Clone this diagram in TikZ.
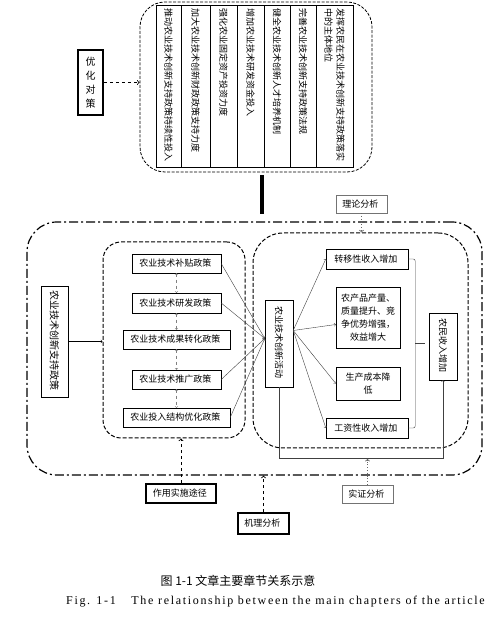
\documentclass[tikz,border=0pt]{standalone}
\usepackage{fontspec}
\setmainfont{Noto Sans CJK SC}
\newfontfamily\enfont[LetterSpace=14]{Liberation Serif}
\usetikzlibrary{arrows,positioning}

\begin{document}
\begin{tikzpicture}[x=1pt, y=1pt,
    every node/.style={inner sep=1pt, font=\fontsize{9}{13}\selectfont},
    box/.style={rectangle, draw, thin, align=center},
    boldbox/.style={rectangle, draw, line width=1.6pt, align=center},
    graybox/.style={rectangle, draw=black!55, thin, align=center},
    vbox/.style={box, rotate=-90},
    colbox/.style={rectangle, draw, semithick, rotate=-90, text width=154pt,
        inner xsep=4pt, align=left},
    dashframe/.style={rectangle, draw, dash pattern=on 4pt off 2pt, line width=1pt},
    dotframe/.style={rectangle, draw, dash pattern=on 9pt off 3pt on 2pt off 3pt,
        line width=1.2pt}
]
    \useasboundingbox (0,0) rectangle (500,628);

    % optimisation measures
    \node (duice_frame) [draw, rounded corners=25pt, dash pattern=on 3pt off 1.5pt,
        line width=0.8pt, minimum width=232, minimum height=170] at (256,541) {};
    \node (col_chixu) [colbox, minimum height=25] at (168.5,542)
    {
        推动农业技术创新支持政策持续性投入
    };
    \node (col_caizheng) [colbox, minimum height=29] at (195.5,542)
    {
        加大农业技术创新财政政策支持力度
    };
    \node (col_guding) [colbox, minimum height=27] at (223.5,542)
    {
        强化农业固定资产投资力度
    };
    \node (col_yanfa) [colbox, minimum height=27] at (250.5,542)
    {
        增加农业技术研发资金投入
    };
    \node (col_rencai) [colbox, minimum height=26] at (277,542)
    {
        健全农业技术创新人才培养机制
    };
    \node (col_fagui) [colbox, minimum height=26] at (303,542)
    {
        完善农业技术创新支持政策法规
    };
    \node (col_zhuti) [colbox, minimum height=37, font=\fontsize{9}{12}\selectfont] at (334.5,542)
    {
        发挥农民在农业技术创新支持政策落实\\中的主体地位
    };
    \node (youhua_duice) [boldbox, minimum width=25, minimum height=65,
        font=\fontsize{10}{14}\selectfont] at (90.5,545.5)
    {
        优\\化\\对\\策
    };

    % frames
    \node (outer_frame) [dotframe, rounded corners=30pt, minimum width=455, minimum height=253]
        at (254.5,279.5) {};
    \node (policy_frame) [dashframe, rounded corners=18pt, minimum width=142, minimum height=196]
        at (174,288) {};
    \node (effect_frame) [dashframe, rounded corners=30pt, minimum width=215, minimum height=215]
        at (360.5,287.5) {};

    % policies
    \node (zhichi_zhengce) [vbox, minimum width=111, minimum height=27,
        font=\fontsize{10}{13}\selectfont] at (54.5,286.5)
    {
        农业技术创新支持政策
    };
    \node (butie) [box, minimum width=89, minimum height=19] at (176.5,364.5)
    {
        农业技术补贴政策
    };
    \node (yanfa) [box, minimum width=89, minimum height=20] at (176.5,325)
    {
        农业技术研发政策
    };
    \node (zhuanhua) [box, minimum width=107, minimum height=19] at (176.5,288.5)
    {
        农业技术成果转化政策
    };
    \node (tuiguang) [box, minimum width=89, minimum height=19] at (176.5,248.5)
    {
        农业技术推广政策
    };
    \node (jiegou) [box, minimum width=107, minimum height=19] at (176.5,210.5)
    {
        农业投入结构优化政策
    };

    % innovation and effects
    \node (huodong) [vbox, minimum width=87, minimum height=28] at (279,284.5)
    {
        农业技术创新活动
    };
    \node (zhuanyi) [box, minimum width=82, minimum height=20] at (367,369)
    {
        转移性收入增加
    };
    \node (chanliang) [box, minimum width=64, minimum height=61] at (368,310.5)
    {
        农产品产量、\\质量提升、竞\\争优势增强，\\效益增大
    };
    \node (chengben) [box, minimum width=64, minimum height=33] at (368,244.5)
    {
        生产成本降\\低
    };
    \node (gongzi) [box, minimum width=82, minimum height=20] at (367,200)
    {
        工资性收入增加
    };
    \node (nongmin) [vbox, minimum width=67, minimum height=28] at (443,281.5)
    {
        农民收入增加
    };

    % analyses
    \node (lilun) [graybox, minimum width=51, minimum height=18] at (361.5,424)
    {
        理论分析
    };
    \node (shizheng) [graybox, minimum width=51, minimum height=18] at (367.5,134)
    {
        实证分析
    };
    \node (zuoyong) [boldbox, minimum width=70, minimum height=19] at (181,134.5)
    {
        作用实施途径
    };
    \node (jili) [boldbox, minimum width=51, minimum height=21] at (263.5,104.5)
    {
        机理分析
    };

    % captions
    \node (caption_cn) [font=\fontsize{12}{14}\selectfont] at (238,47)
    {
        图 1-1 文章主要章节关系示意
    };
    \node (caption_en) [anchor=west, font=\enfont\fontsize{12}{14}\selectfont] at (65,26)
    {
        Fig. 1-1\hspace{1.3em}The relationship between the main chapters of the article
    };

    \draw[->, dashed, thick] (youhua_duice.east) to (youhua_duice.east -| duice_frame.west);
    \draw[line width=3.5pt, shorten <=3pt, shorten >=7pt] ([xshift=6pt]duice_frame.south)
        to ([xshift=6pt]duice_frame.south |- outer_frame.north);

    \draw[->] (zhichi_zhengce.north) to (zhichi_zhengce.north -| policy_frame.west);

    \draw[<->, dashed, black!50] (butie) to (yanfa);
    \draw[<->, dashed, black!50] (yanfa) to (zhuanhua);
    \draw[<->, dashed, black!50] (zhuanhua) to (tuiguang);
    \draw[<->, dashed, black!50] (tuiguang) to (jiegou);

    \draw[->, black!75] (butie.east) to ([yshift=5pt]huodong.south);
    \draw[->, black!75] (yanfa.east) to ([yshift=5pt]huodong.south);
    \draw[->, black!75] (tuiguang.east) to ([yshift=5pt]huodong.south);
    \draw[->, black!75] (jiegou.east) to ([yshift=5pt]huodong.south);

    \draw[->, black!75] ([yshift=13pt]huodong.north) to (zhuanyi.west);
    \draw[->, black!75] ([yshift=13pt]huodong.north) to ([yshift=-7pt]chanliang.west);
    \draw[->, black!75] ([yshift=13pt]huodong.north) to (chengben.west);
    \draw[->, black!75] ([yshift=13pt]huodong.north) to (gongzi.west);

    \draw[black!75, rounded corners=2pt] (zhuanyi.east) -- ++(7,0) |- (gongzi.east);
    \draw[black!75] ([xshift=-4pt, yshift=3pt]nongmin.south) -- ++(-10,0);
    \draw[->, black!75] (huodong.east) -- ++(0,-71) -| (nongmin.east);

    \draw[->, dotted, black!60, thick] (lilun.south) to (lilun.south |- effect_frame.north);
    \draw[->, dotted, black!60, thick] (shizheng.north) -- ++(0,26);
    \draw[->, dashed, thick] (zuoyong.north) to (zuoyong.north |- policy_frame.south);
    \draw[->, dashed, thick] (jili.north) to (jili.north |- outer_frame.south);
\end{tikzpicture}
\end{document}
